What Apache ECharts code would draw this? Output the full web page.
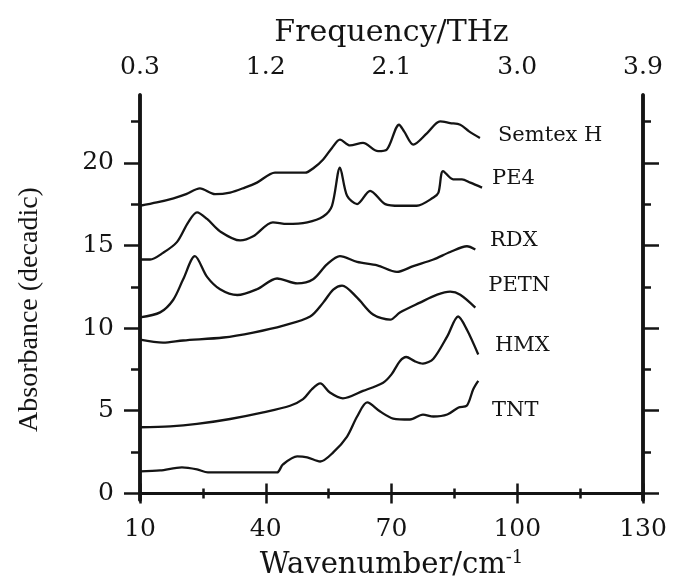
<!DOCTYPE html>
<html><head><meta charset="utf-8">
<script src="https://cdn.jsdelivr.net/npm/echarts@6/dist/echarts.min.js"></script>
<style>html,body{margin:0;padding:0;background:#fff}#c{width:684px;height:577px}</style>
</head><body><div id="c"></div><script>
// ---- tick values ----
const xMajor = [10, 40, 70, 100, 130];
const xMinor = [25, 55, 85, 115];
const yMajor = [0, 5, 10, 15, 20];
const yMinor = [2.5, 7.5, 12.5, 17.5, 22.5];

// ---- series data (wavenumber cm^-1, absorbance) ----
const semtexX = [10, 14, 18, 21, 24.3, 27.9, 31.5, 35, 37.9, 42.2, 46, 49.4, 51.5, 53.7, 55.8, 57.7, 60.1, 63.2, 66.8, 68.9, 71.8, 73, 75.2, 78.5, 81.6, 84, 86.4, 88.5, 91.1];
const semtexY = [17.4, 17.6, 17.85, 18.1, 18.45, 18.1, 18.2, 18.5, 18.8, 19.4, 19.4, 19.4, 19.7, 20.2, 20.9, 21.4, 21.05, 21.2, 20.7, 20.8, 22.3, 21.9, 21.1, 21.8, 22.5, 22.4, 22.3, 21.9, 21.5];

const pe4X = [10, 12.4, 15.5, 18.8, 21.5, 23.6, 26, 29.1, 33.9, 37, 41.7, 45.1, 49.9, 53.7, 55.8, 57.7, 59.4, 61.8, 64.9, 68.5, 72, 76, 80, 81.2, 82.3, 84.7, 86.8, 88.8, 91.6];
const pe4Y = [14.15, 14.15, 14.55, 15.2, 16.4, 17.0, 16.6, 15.85, 15.3, 15.55, 16.4, 16.3, 16.4, 16.75, 17.4, 19.7, 18.0, 17.5, 18.3, 17.5, 17.4, 17.4, 17.9, 18.2, 19.5, 19.0, 19.0, 18.8, 18.5];

const rdxX = [10, 14.8, 17.9, 20.3, 23.1, 26, 29.1, 33.2, 37.9, 42.7, 47.5, 51.3, 54.6, 57.7, 61.8, 66.6, 71.3, 75.2, 80, 84, 88, 90];
const rdxY = [10.65, 10.95, 11.7, 12.95, 14.35, 13.1, 12.35, 12.0, 12.35, 13.0, 12.7, 12.95, 13.85, 14.35, 14.0, 13.8, 13.4, 13.75, 14.15, 14.6, 14.95, 14.75];

const petnX = [10, 15.5, 20.3, 29.9, 37, 44.2, 50.6, 53.7, 56.1, 58.2, 61.8, 65.6, 69.7, 72, 76.8, 80.9, 84, 86.4, 90];
const petnY = [9.3, 9.12, 9.25, 9.43, 9.73, 10.15, 10.7, 11.54, 12.33, 12.57, 11.84, 10.82, 10.51, 10.94, 11.54, 12.02, 12.2, 12.02, 11.24];

const hmxX = [10, 17.2, 23.6, 31.5, 39.4, 45.8, 48.9, 51, 53, 55.3, 58.4, 63.2, 68, 70, 72, 73.5, 75.5, 77.5, 80, 83.3, 85.9, 88, 90.7];
const hmxY = [4.0, 4.05, 4.2, 4.5, 4.9, 5.3, 5.7, 6.3, 6.65, 6.1, 5.75, 6.2, 6.7, 7.2, 8.0, 8.25, 8.0, 7.85, 8.15, 9.5, 10.7, 9.9, 8.4];

const tntX = [10, 14.8, 20, 23.6, 26.2, 30, 35, 40, 42.7, 44.1, 47.5, 49.9, 53, 56.1, 59.4, 61.8, 64.2, 67.3, 70.4, 74.4, 77.5, 80, 83.3, 86, 88, 89.5, 90.7];
const tntY = [1.33, 1.39, 1.57, 1.45, 1.27, 1.27, 1.27, 1.27, 1.27, 1.75, 2.24, 2.18, 1.93, 2.48, 3.44, 4.65, 5.5, 4.95, 4.53, 4.47, 4.77, 4.65, 4.77, 5.2, 5.32, 6.3, 6.8];

// ---- curve labels ----
const labelNames = ['Semtex H', 'PE4', 'RDX', 'PETN', 'HMX', 'TNT'];
const labelX = [95.4, 94, 93.5, 93.1, 94.7, 94];
const labelY = [21.65, 19.05, 15.3, 12.6, 8.95, 5.0];

const seriesX = [semtexX, pe4X, rdxX, petnX, hmxX, tntX];
const seriesY = [semtexY, pe4Y, rdxY, petnY, hmxY, tntY];

const FONT = 'DejaVu Serif';
const INK = '#141414';

function xAx(pos, ticks, len, labels, fmt, margin) {
  return {
    type: 'value', position: pos, min: 10, max: 130,
    axisLine: { show: true, lineStyle: { color: INK, width: 2.5 } },
    axisTick: { show: true, customValues: ticks, length: len, lineStyle: { color: INK, width: 2.5 } },
    axisLabel: labels ? { show: true, customValues: ticks, fontFamily: FONT, fontSize: 25, color: INK, margin: margin, formatter: fmt } : { show: false },
    splitLine: { show: false }
  };
}
function yAx(pos, ticks, len, labels) {
  return {
    type: 'value', position: pos, min: -0.4, max: 24.1,
    axisLine: { show: true, lineStyle: { color: INK, width: 3.5 } },
    axisTick: { show: true, customValues: ticks, length: len, lineStyle: { color: INK, width: 2.5 } },
    axisLabel: labels ? { show: true, customValues: ticks, fontFamily: FONT, fontSize: 25, color: INK, margin: 26 } : { show: false },
    splitLine: { show: false }
  };
}

const xAxes = [
  Object.assign(xAx('bottom', xMajor, 10, true, v => String(v), 17), {
    name: '{a|Wavenumber/cm}{s|-1}', nameLocation: 'middle', nameGap: 49,
    nameTextStyle: { rich: {
      a: { fontFamily: FONT, fontSize: 29, color: INK },
      s: { fontFamily: FONT, fontSize: 18, color: INK, padding: [0, 0, 14, 0] }
    } }
  }),
  xAx('bottom', xMinor, 5, false),
  Object.assign(xAx('top', xMajor, 10, true, v => (v * 0.03).toFixed(1), 15), {
    name: 'Frequency/THz', nameLocation: 'middle', nameGap: 47,
    nameTextStyle: { fontFamily: FONT, fontSize: 30, color: INK }
  }),
  xAx('top', xMinor, 5, false)
];
const yAxes = [
  Object.assign(yAx('left', yMajor, 16, true), {
    name: 'Absorbance (decadic)', nameLocation: 'middle', nameGap: 96, nameRotate: 90,
    nameTextStyle: { fontFamily: 'Liberation Serif', fontSize: 28, color: INK, padding: [0, 24, 0, 0] }
  }),
  yAx('left', yMinor, 9, false),
  yAx('right', yMajor, 16, false),
  yAx('right', yMinor, 8, false)
];

const series = seriesX.map((xs, i) => ({
  type: 'line', xAxisIndex: 0, yAxisIndex: 0,
  data: xs.map((x, j) => [x, seriesY[i][j]]),
  showSymbol: false, smooth: 0.3,
  lineStyle: { color: INK, width: 2.3 },
  silent: true
}));
series.push({
  type: 'scatter', xAxisIndex: 0, yAxisIndex: 0, symbolSize: 0,
  itemStyle: { opacity: 1 },
  data: labelNames.map((n, i) => ({ name: n, value: [labelX[i], labelY[i]] })),
  label: { show: true, position: 'right', distance: 0, formatter: '{b}', fontFamily: FONT, fontSize: 21, color: INK, opacity: 1 },
  silent: true
});

const chart = echarts.init(document.getElementById('c'), null, { renderer: 'canvas' });
chart.setOption({
  animation: false,
  backgroundColor: '#ffffff',
  grid: { left: 140, right: 41, top: 95, bottom: 77, containLabel: false, outerBoundsMode: 'none' },
  xAxis: xAxes,
  yAxis: yAxes,
  series: series
});
</script></body></html>
